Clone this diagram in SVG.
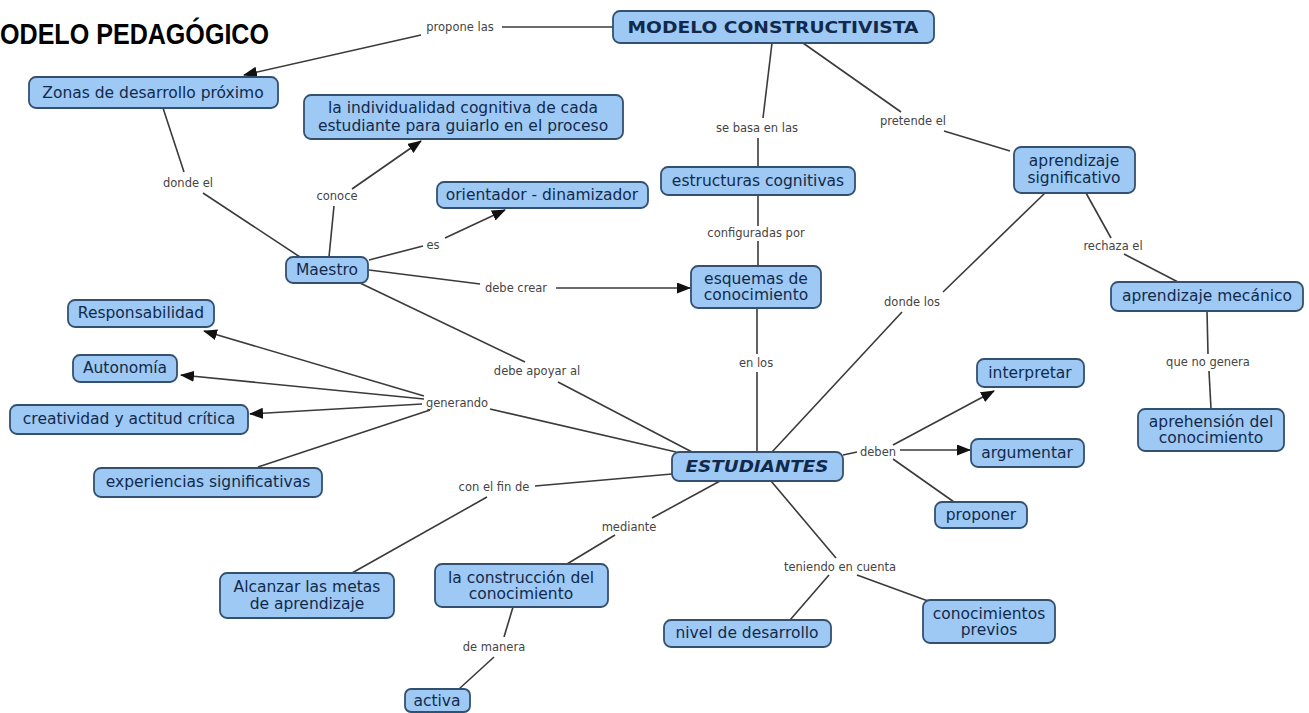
<svg xmlns="http://www.w3.org/2000/svg" width="1309" height="713" viewBox="0 0 1309 713">
<style>
.n rect{fill:#9dc9f4;stroke:#34506f;stroke-width:1.8}
.t{font-family:"DejaVu Sans",Verdana,sans-serif;font-size:15.5px;fill:#13294b;text-anchor:middle}
.b{font-weight:bold}
.l{font-family:"DejaVu Sans",Verdana,sans-serif;font-size:11.5px;fill:#444;text-anchor:middle}
.c path{stroke:#3a3a3a;stroke-width:1.6;fill:none}
.c path.a{marker-end:url(#ah)}
</style>
<defs>
<marker id="ah" markerUnits="userSpaceOnUse" markerWidth="14" markerHeight="11" refX="13" refY="5.5" orient="auto"><path d="M0,0 L14,5.5 L0,11 z" fill="#111"/></marker>
</defs>
<rect width="1309" height="713" fill="#fff"/>
<text x="0" y="44" font-family="'Liberation Sans',Arial,sans-serif" font-weight="bold" font-size="29" fill="#000" textLength="269" lengthAdjust="spacingAndGlyphs">ODELO PEDAGÓGICO</text>
<g id="connectors" class="c">
<path d="M613,27 L502,27"/>
<path class="a" d="M421,35 L244,75"/>
<path d="M163,108 L184,172"/>
<path d="M203,193 L300,257"/>
<path d="M329,257 L334,206"/>
<path class="a" d="M352,189 L421,141"/>
<path d="M369,260 L423,246"/>
<path class="a" d="M445,238 L505,210"/>
<path d="M369,270 L480,284"/>
<path class="a" d="M556,288 L690,288"/>
<path d="M360,283 L525,362"/>
<path d="M558,382 L692,452"/>
<path d="M490,409 L676,452"/>
<path class="a" d="M424,396 L204,331"/>
<path class="a" d="M424,399 L181,375"/>
<path class="a" d="M422,404 L250,414"/>
<path d="M430,410 L258,467"/>
<path d="M672,474 L535,486"/>
<path d="M487,497 L352,573"/>
<path d="M720,481 L652,518"/>
<path d="M615,535 L567,564"/>
<path d="M513,607 L504,637"/>
<path d="M494,657 L459,689"/>
<path d="M771,481 L836,558"/>
<path d="M829,575 L790,620"/>
<path d="M857,575 L928,601"/>
<path d="M843,455 L857,452"/>
<path class="a" d="M900,450 L970,450"/>
<path class="a" d="M893,445 L994,391"/>
<path d="M893,459 L954,502"/>
<path d="M757,308 L757,354"/>
<path d="M757,372 L757,452"/>
<path d="M758,195 L758,226"/>
<path d="M758,241 L758,266"/>
<path d="M772,43 L763,118"/>
<path d="M758,138 L758,167"/>
<path d="M803,43 L901,112"/>
<path d="M944,131 L1010,151"/>
<path d="M1045,193 L943,292"/>
<path d="M902,312 L772,452"/>
<path d="M1086,193 L1111,238"/>
<path d="M1124,254 L1178,282"/>
<path d="M1207,311 L1208,354"/>
<path d="M1209,371 L1211,409"/>
</g>
<g id="labels">
<text class="l" x="460" y="31">propone las</text>
<text class="l" x="188" y="187">donde el</text>
<text class="l" x="337" y="200">conoce</text>
<text class="l" x="433" y="249">es</text>
<text class="l" x="516" y="292">debe crear</text>
<text class="l" x="537" y="375">debe apoyar al</text>
<text class="l" x="457" y="407">generando</text>
<text class="l" x="494" y="491">con el fin de</text>
<text class="l" x="629" y="531">mediante</text>
<text class="l" x="494" y="651">de manera</text>
<text class="l" x="840" y="571">teniendo en cuenta</text>
<text class="l" x="878" y="456">deben</text>
<text class="l" x="756" y="367">en los</text>
<text class="l" x="756" y="237">configuradas por</text>
<text class="l" x="757" y="132">se basa en las</text>
<text class="l" x="913" y="125">pretende el</text>
<text class="l" x="912" y="306">donde los</text>
<text class="l" x="1113" y="250">rechaza el</text>
<text class="l" x="1208" y="366">que no genera</text>
</g>
<g id="n-modelo" class="n"><rect x="613" y="11" width="321" height="32" rx="7"/><text class="t b" x="773" y="33" font-size="17" textLength="291" lengthAdjust="spacingAndGlyphs">MODELO CONSTRUCTIVISTA</text></g>
<g id="n-zonas" class="n"><rect x="29" y="77" width="249" height="31" rx="7"/><text class="t" x="153" y="98">Zonas de desarrollo próximo</text></g>
<g id="n-individualidad" class="n"><rect x="304" y="95" width="319" height="44" rx="7"/><text class="t" x="463" y="113">la individualidad cognitiva de cada</text><text class="t" x="463" y="131">estudiante para guiarlo en el proceso</text></g>
<g id="n-orientador" class="n"><rect x="437" y="182" width="211" height="26" rx="7"/><text class="t" x="542" y="200">orientador - dinamizador</text></g>
<g id="n-estructuras" class="n"><rect x="661" y="167" width="194" height="28" rx="7"/><text class="t" x="758" y="186">estructuras cognitivas</text></g>
<g id="n-significativo" class="n"><rect x="1014" y="147" width="121" height="46" rx="7"/><text class="t" x="1074" y="166">aprendizaje</text><text class="t" x="1074" y="183">significativo</text></g>
<g id="n-maestro" class="n"><rect x="286" y="257" width="82" height="26" rx="7"/><text class="t" x="327" y="275">Maestro</text></g>
<g id="n-esquemas" class="n"><rect x="691" y="266" width="130" height="42" rx="7"/><text class="t" x="756" y="284">esquemas de</text><text class="t" x="756" y="300">conocimiento</text></g>
<g id="n-mecanico" class="n"><rect x="1111" y="282" width="192" height="29" rx="7"/><text class="t" x="1207" y="301">aprendizaje mecánico</text></g>
<g id="n-responsabilidad" class="n"><rect x="68" y="300" width="146" height="27" rx="7"/><text class="t" x="141" y="318">Responsabilidad</text></g>
<g id="n-autonomia" class="n"><rect x="73" y="355" width="104" height="27" rx="7"/><text class="t" x="125" y="373">Autonomía</text></g>
<g id="n-interpretar" class="n"><rect x="977" y="359" width="107" height="28" rx="7"/><text class="t" x="1030" y="378">interpretar</text></g>
<g id="n-creatividad" class="n"><rect x="10" y="405" width="238" height="29" rx="7"/><text class="t" x="129" y="424">creatividad y actitud crítica</text></g>
<g id="n-aprehension" class="n"><rect x="1138" y="409" width="146" height="42" rx="7"/><text class="t" x="1211" y="427">aprehensión del</text><text class="t" x="1211" y="443">conocimiento</text></g>
<g id="n-argumentar" class="n"><rect x="971" y="439" width="113" height="28" rx="7"/><text class="t" x="1027" y="458">argumentar</text></g>
<g id="n-estudiantes" class="n"><rect x="672" y="452" width="171" height="29" rx="7"/><text class="t b" x="757" y="472" font-style="italic" font-size="16" textLength="143" lengthAdjust="spacingAndGlyphs">ESTUDIANTES</text></g>
<g id="n-experiencias" class="n"><rect x="94" y="468" width="228" height="29" rx="7"/><text class="t" x="208" y="487">experiencias significativas</text></g>
<g id="n-proponer" class="n"><rect x="935" y="502" width="92" height="26" rx="7"/><text class="t" x="981" y="520">proponer</text></g>
<g id="n-alcanzar" class="n"><rect x="220" y="573" width="174" height="45" rx="7"/><text class="t" x="307" y="592">Alcanzar las metas</text><text class="t" x="307" y="609">de aprendizaje</text></g>
<g id="n-construccion" class="n"><rect x="435" y="564" width="173" height="43" rx="7"/><text class="t" x="521" y="583">la construcción del</text><text class="t" x="521" y="599">conocimiento</text></g>
<g id="n-nivel" class="n"><rect x="664" y="620" width="167" height="27" rx="7"/><text class="t" x="747" y="638">nivel de desarrollo</text></g>
<g id="n-previos" class="n"><rect x="923" y="600" width="132" height="43" rx="7"/><text class="t" x="989" y="619">conocimientos</text><text class="t" x="989" y="635">previos</text></g>
<g id="n-activa" class="n"><rect x="405" y="689" width="65" height="23" rx="6"/><text class="t" x="437" y="706">activa</text></g>
</svg>
